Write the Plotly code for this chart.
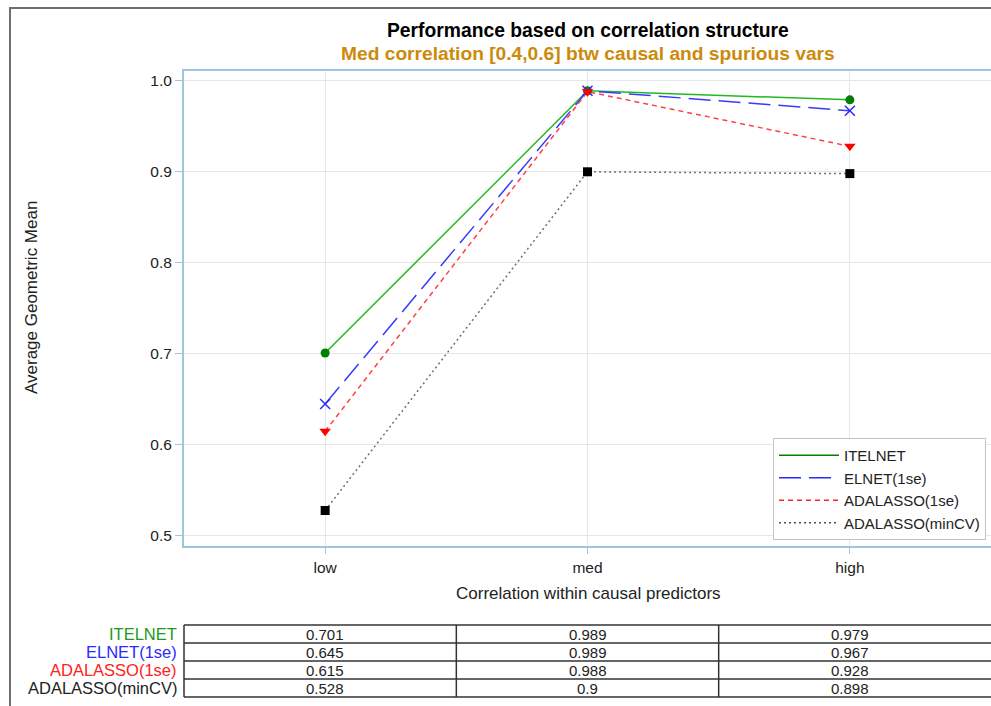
import plotly.graph_objects as go

categories = ["low", "med", "high"]
series_names = ["ITELNET", "ELNET(1se)", "ADALASSO(1se)", "ADALASSO(minCV)"]
itelnet = [0.701, 0.989, 0.979]
elnet_1se = [0.645, 0.989, 0.967]
adalasso_1se = [0.615, 0.988, 0.928]
adalasso_mincv = [0.528, 0.9, 0.898]
table_text = [
    ["0.701", "0.989", "0.979"],
    ["0.645", "0.989", "0.967"],
    ["0.615", "0.988", "0.928"],
    ["0.528", "0.9", "0.898"],
]
y_ticks = [0.5, 0.6, 0.7, 0.8, 0.9, 1.0]

W, H = 991, 706
L, T, B = 184, 71, 546
PW, PH = W - L, B - T
XR = [-0.538, 2.538]
YR = [0.489, 1.0107]
FONT = "Liberation Sans, Arial, sans-serif"


def px(x):
    return (x - L) / PW


def py(y):
    return (B - y) / PH


def xdata_to_paper(v):
    return (v - XR[0]) / (XR[1] - XR[0])


styles = [
    dict(line=dict(color="#22b822", width=1.5, dash="solid"),
         marker=dict(symbol="circle", color="#008000", size=9)),
    dict(line=dict(color="#3a3aff", width=1.5, dash="22px,8px"),
         marker=dict(symbol="x-thin-open", color="#2a2aff", size=10,
                     line=dict(color="#2a2aff", width=1.5))),
    dict(line=dict(color="#ff4040", width=1.5, dash="5px,4px"),
         marker=dict(symbol="triangle-down", color="#ff0000", size=10)),
    dict(line=dict(color="#707070", width=1.5, dash="2px,3px"),
         marker=dict(symbol="square", color="#000000", size=9)),
]
legend_line_colors = ["#008000", "#2a2aff", "#ff2020", "#505050"]
row_colors = ["#1a9a1a", "#2a2aff", "#ff2020", "#222222"]

fig = go.Figure()
data = [itelnet, elnet_1se, adalasso_1se, adalasso_mincv]
for name, vals, st in zip(series_names, data, styles):
    fig.add_trace(go.Scatter(x=categories, y=vals, mode="lines", name=name,
                             line=st["line"], showlegend=False, hoverinfo="skip"))
for name, vals, st in zip(series_names, data, styles):
    fig.add_trace(go.Scatter(x=categories, y=vals, mode="markers", name=name,
                             marker=st["marker"], showlegend=False))
for name, st, lc in zip(series_names, styles, legend_line_colors):
    ln = dict(st["line"])
    ln["color"] = lc
    fig.add_trace(go.Scatter(x=[None], y=[None], mode="lines", name=name,
                             line=ln, showlegend=True))

shapes = []
annotations = []

# outer frame
shapes.append(dict(type="rect", xref="paper", yref="paper",
                   x0=px(10), x1=px(1000), y0=py(8), y1=py(720),
                   line=dict(color="#707070", width=2), layer="below"))

# table
row_edges = [625, 643, 661, 679, 697]
for ye in row_edges:
    shapes.append(dict(type="line", xref="paper", yref="paper",
                       x0=0, x1=1.01, y0=py(ye), y1=py(ye),
                       line=dict(color="#333333", width=1.5)))
for xv in [XR[0], 0.5, 1.5]:
    shapes.append(dict(type="line", xref="paper", yref="paper",
                       x0=xdata_to_paper(xv), x1=xdata_to_paper(xv),
                       y0=py(row_edges[0]), y1=py(row_edges[-1]),
                       line=dict(color="#333333", width=1.5)))
for i, (name, row) in enumerate(zip(series_names, table_text)):
    yc = (row_edges[i] + row_edges[i + 1]) / 2
    annotations.append(dict(xref="paper", yref="paper", x=px(179), y=py(yc),
                            xanchor="right", yanchor="middle", showarrow=False,
                            text=name, font=dict(family=FONT, size=16.5, color=row_colors[i])))
    for cat, txt in zip(categories, row):
        annotations.append(dict(xref="x", yref="paper", x=cat, y=py(yc),
                                xanchor="center", yanchor="middle", showarrow=False,
                                text=txt, font=dict(family=FONT, size=15, color="#222222")))

# titles
annotations.append(dict(xref="paper", yref="paper", x=px(588), y=py(31),
                        xanchor="center", yanchor="middle", showarrow=False,
                        text="<b>Performance based on correlation structure</b>",
                        font=dict(family=FONT, size=19.3, color="#000000")))
annotations.append(dict(xref="paper", yref="paper", x=px(588), y=py(53),
                        xanchor="center", yanchor="middle", showarrow=False,
                        text="<b>Med correlation [0.4,0.6] btw causal and spurious vars</b>",
                        font=dict(family=FONT, size=19.2, color="#cc8a0a")))
annotations.append(dict(xref="paper", yref="paper", x=px(31), y=py(298),
                        xanchor="center", yanchor="middle", showarrow=False, textangle=-90,
                        text="Average Geometric Mean",
                        font=dict(family=FONT, size=17, color="#222222")))
annotations.append(dict(xref="paper", yref="paper", x=px(588), y=py(593),
                        xanchor="center", yanchor="middle", showarrow=False,
                        text="Correlation within causal predictors",
                        font=dict(family=FONT, size=17, color="#222222")))

fig.update_layout(
    width=W, height=H,
    margin=dict(l=L, r=0, t=T, b=H - B),
    paper_bgcolor="white", plot_bgcolor="white",
    font=dict(family=FONT, size=15, color="#222222"),
    showlegend=True,
    legend=dict(x=px(986), y=py(540), xanchor="right", yanchor="bottom",
                bgcolor="white", bordercolor="#c4c4c4", borderwidth=1,
                font=dict(family=FONT, size=15, color="#222222"),
                itemwidth=60, tracegroupgap=0),
    shapes=shapes, annotations=annotations,
    xaxis=dict(type="category", categoryorder="array", categoryarray=categories,
               range=XR, showgrid=True, gridcolor="#e6e6e6", zeroline=False,
               showline=True, linecolor="#9dc6dc", linewidth=2, mirror=True,
               ticks="outside", ticklen=6, tickcolor="#9dc6dc",
               tickfont=dict(family=FONT, size=15.5, color="#222222")),
    yaxis=dict(range=YR, tickvals=y_ticks, ticktext=[f"{v:.1f}" for v in y_ticks],
               showgrid=True, gridcolor="#e6e6e6", zeroline=False,
               showline=True, linecolor="#9dc6dc", linewidth=2, mirror=False,
               ticks="outside", ticklen=7, tickcolor="#9dc6dc",
               tickfont=dict(family=FONT, size=15.5, color="#222222")),
)

fig.write_html("out.html")
